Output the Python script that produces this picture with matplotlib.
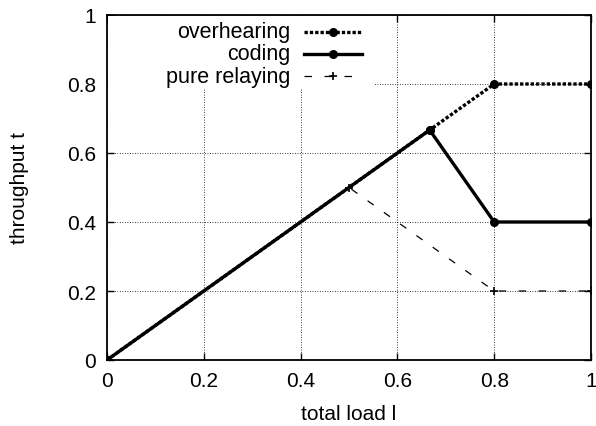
import matplotlib
matplotlib.use("Agg")
import matplotlib.pyplot as plt
from matplotlib.lines import Line2D
from matplotlib.patches import Rectangle

plt.rcParams['font.family'] = ['Liberation Sans', 'DejaVu Sans']

load_over = [0, 0.5, 2/3, 0.8, 1.0]
thr_over = [0, 0.5, 2/3, 0.8, 0.8]
load_coding = [0, 0.5, 2/3, 0.8, 1.0]
thr_coding = [0, 0.5, 2/3, 0.4, 0.4]
load_relay = [0, 0.5, 0.8, 1.0]
thr_relay = [0, 0.5, 0.2, 0.2]
labels = ["overhearing", "coding", "pure relaying"]
ticks = [0, 0.2, 0.4, 0.6, 0.8, 1]
tick_labels = ["0", "0.2", "0.4", "0.6", "0.8", "1"]

fig = plt.figure(figsize=(5.96, 4.27), dpi=100)
ax = fig.add_axes([107/596, 1-361/427, 484/596, 345/427])

ax.set_xlim(0, 1)
ax.set_ylim(0, 1)
ax.set_xticks(ticks)
ax.set_xticklabels(tick_labels)
ax.set_yticks(ticks)
ax.set_yticklabels(tick_labels)
ax.tick_params(direction='in', top=True, right=True, length=5, width=1,
               labelsize=15, pad=8)
for s in ax.spines.values():
    s.set_linewidth(1.3)
ax.grid(True, linestyle=(0, (1, 2)), color='black', linewidth=0.6)
ax.set_axisbelow(True)

style_relay = dict(color='black', lw=0.9, linestyle=(0, (6, 10)), marker='+',
                   markersize=6, markeredgewidth=1.2)
style_over = dict(color='black', lw=2.4, linestyle=(0, (1, 0.6)), marker='o',
                  markersize=5.5)
style_coding = dict(color='black', lw=2.4, linestyle='-', marker='o',
                    markersize=5.5)

ax.plot(load_relay, thr_relay, zorder=3, **style_relay)
ax.plot(load_over, thr_over, zorder=3, markevery=[0, 2, 3, 4], **style_over)
ax.plot(load_coding, thr_coding, zorder=4, markevery=[0, 2, 3, 4], **style_coding)

ax.set_xlabel("total load l", fontsize=15, labelpad=10)
ax.set_ylabel("throughput t", fontsize=15, labelpad=27)

# legend (gnuplot style: text left, sample right)
ax.add_patch(Rectangle((0.003, 0.788), 0.551, 0.209, transform=ax.transAxes,
                       facecolor='white', edgecolor='none', zorder=2.5))
rows = [0.951, 0.887, 0.823]
styles = [style_over, style_coding, style_relay]
for lab, yy, st in zip(labels, rows, styles):
    ax.text(0.378, yy, lab, transform=ax.transAxes, ha='right', va='center',
            fontsize=15.5, zorder=5)
    st2 = {k: v for k, v in st.items()
           if k not in ('marker', 'markersize', 'markeredgewidth')}
    ax.add_line(Line2D([0.407, 0.527], [yy, yy], transform=ax.transAxes,
                       zorder=5, **st2))
    ax.add_line(Line2D([0.467], [yy], transform=ax.transAxes, zorder=5,
                       color='black', linestyle='none', marker=st['marker'],
                       markersize=st.get('markersize', 5),
                       markeredgewidth=st.get('markeredgewidth', 1)))

fig.savefig("out.png", dpi=100)
